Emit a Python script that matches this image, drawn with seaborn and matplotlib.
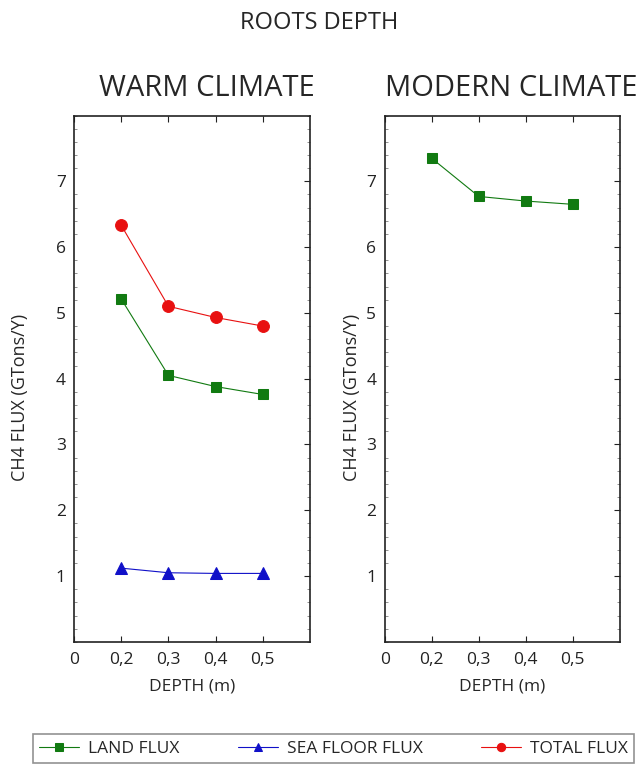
import numpy as np
import pandas as pd
import matplotlib
matplotlib.use("Agg")
import matplotlib.pyplot as plt
import matplotlib.ticker as mtick
import seaborn as sns

# data
depth = [0.2, 0.3, 0.4, 0.5]
warm_land = [5.21, 4.05, 3.88, 3.76]
warm_sea = [1.12, 1.05, 1.04, 1.04]
warm_total = [6.33, 5.10, 4.93, 4.80]
modern_land = [7.35, 6.77, 6.70, 6.65]
x_ticks = [0, 0.2, 0.3, 0.4, 0.5]
y_ticks = [1, 2, 3, 4, 5, 6, 7]

LAND = 'LAND FLUX'
SEA = 'SEA FLOOR FLUX'
TOTAL = 'TOTAL FLUX'

warm = pd.DataFrame({
    'depth': depth * 3,
    'flux': warm_land + warm_sea + warm_total,
    'kind': [LAND] * 4 + [SEA] * 4 + [TOTAL] * 4,
})
modern = pd.DataFrame({'depth': depth, 'flux': modern_land, 'kind': [LAND] * 4})

palette = {LAND: '#117a11', SEA: '#1010c8', TOTAL: '#e81010'}
markers = {LAND: 's', SEA: '^', TOTAL: 'o'}
msize = {LAND: 6.5, SEA: 8, TOTAL: 8.5}


# the depth axis in the original is squeezed: 0 -> 0.2 takes the same room as 0.2 -> 0.3
def fwd(x):
    x = np.asarray(x, dtype=float)
    return np.where(x <= 0.2, x * 5, 1 + (x - 0.2) * 10)


def inv(u):
    u = np.asarray(u, dtype=float)
    return np.where(u <= 1, u / 5, 0.2 + (u - 1) / 10)


def fr(x, pos):
    # comma as decimal separator
    if abs(x) < 1e-9:
        return '0'
    return f'{x:.1f}'.replace('.', ',')


sns.set_theme(style='white')
plt.rcParams['font.family'] = ['Open Sans', 'DejaVu Sans']

fig = plt.figure(figsize=(6.39, 7.65), dpi=100)
ax1 = fig.add_axes([0.116, 0.161, 0.369, 0.688])
ax2 = fig.add_axes([0.602, 0.161, 0.368, 0.688])

# (axes, data, title, title x, ylabel x)
panels = [(ax1, warm, 'WARM CLIMATE', 0.565, -0.19),
          (ax2, modern, 'MODERN CLIMATE', 0.54, -0.10)]

for ax, df, title, tx, lx in panels:
    for kind, sub in df.groupby('kind', sort=False):
        sns.lineplot(sub, x='depth', y='flux', ax=ax, color=palette[kind],
                     marker=markers[kind], markersize=msize[kind], linewidth=0.8,
                     markeredgecolor=palette[kind], label=kind, legend=False)
    ax.set_xscale('function', functions=(fwd, inv))
    ax.set_xlim(0, 0.6)
    ax.set_ylim(0, 8)
    ax.set_xticks(x_ticks)
    ax.xaxis.set_major_formatter(mtick.FuncFormatter(fr))
    ax.xaxis.set_minor_locator(mtick.NullLocator())
    ax.set_yticks(y_ticks)
    ax.yaxis.set_minor_locator(mtick.MultipleLocator(0.2))
    ax.tick_params(axis='both', which='major', direction='in', top=True, right=True,
                   bottom=True, length=4, width=0.8, labelsize=12.5, colors='#222222')
    ax.tick_params(axis='y', which='minor', direction='in', left=True, right=True,
                   length=2, width=0.5, color='#666666')
    ax.tick_params(axis='x', which='major', pad=7)
    ax.tick_params(axis='y', which='major', pad=6)
    for s in ax.spines.values():
        s.set_color('#222222')
        s.set_linewidth(1.2)
    ax.set_xlabel('DEPTH (m)', fontsize=12.5, labelpad=8)
    ax.set_ylabel('CH4 FLUX (GTons/Y)', fontsize=13)
    ax.yaxis.set_label_coords(lx, 0.465)
    ax.set_title(title, fontsize=21, pad=14, x=tx)

fig.suptitle('ROOTS DEPTH', fontsize=17, y=0.985)

handles, labels = ax1.get_legend_handles_labels()
leg = fig.legend(handles, labels, loc='lower left', ncol=3, mode='expand',
                 bbox_to_anchor=(0.052, 0.003, 0.94, 0.04),
                 fontsize=12.5, frameon=True, fancybox=False, edgecolor='#777777',
                 handlelength=2.3, handletextpad=0.5, borderpad=0.35, borderaxespad=0)
leg.get_frame().set_linewidth(1.2)
for h in leg.legend_handles:
    h.set_markersize(6)

fig.savefig('out.png', dpi=100)
